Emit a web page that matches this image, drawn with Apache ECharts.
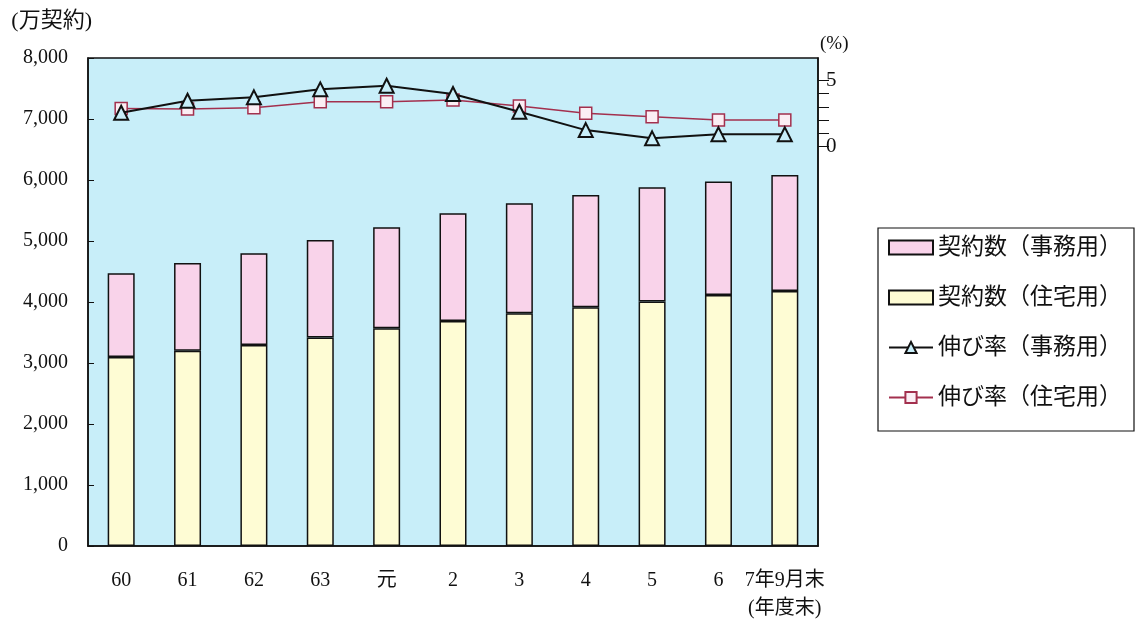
<!DOCTYPE html>
<html>
<head>
<meta charset="utf-8">
<script src="https://cdn.jsdelivr.net/npm/echarts@6/dist/echarts.min.js"></script>
<style>
html,body{margin:0;padding:0;background:#fff;}
#c{width:1140px;height:620px;}
</style>
</head>
<body>
<div id="c"></div>
<script>
const categories = ['60', '61', '62', '63', '元', '2', '3', '4', '5', '6', '7年9月末'];
const residentialContracts = [3100, 3200, 3295, 3420, 3570, 3690, 3815, 3915, 4010, 4115, 4180];
const officeContracts = [1370, 1440, 1505, 1595, 1655, 1765, 1805, 1840, 1870, 1860, 1900];
const officeGrowth = [2.55, 3.46, 3.71, 4.31, 4.58, 3.96, 2.63, 1.25, 0.63, 0.93, 0.93];
const residentialGrowth = [2.88, 2.83, 2.93, 3.38, 3.38, 3.51, 3.06, 2.51, 2.25, 2.0, 2.0];
const rightLabelValues = [0, 5];
const rightTickValues = [0, 1, 2, 3, 4, 5];

const FONT = "'Liberation Serif', 'Noto Sans CJK JP', serif";
const chart = echarts.init(document.getElementById('c'));
chart.setOption({
  animation: false,
  backgroundColor: '#ffffff',
  textStyle: { fontFamily: FONT, color: '#111' },
  grid: {
    left: 88, right: 322, top: 58, bottom: 74,
    show: true, backgroundColor: '#c8eef9', borderColor: '#111', borderWidth: 1.5
  },
  legend: {
    orient: 'vertical', left: 878, top: 228,
    data: [
      { name: '契約数（事務用）', icon: 'rect' },
      { name: '契約数（住宅用）', icon: 'rect' },
      { name: '伸び率（事務用）' },
      { name: '伸び率（住宅用）' }
    ],
    itemWidth: 44, itemHeight: 14, itemGap: 27,
    padding: [8, 12, 22, 10],
    borderColor: '#111', borderWidth: 1.2,
    textStyle: { fontFamily: FONT, fontSize: 23, color: '#111' }
  },
  xAxis: {
    type: 'category', data: categories, boundaryGap: true,
    axisLine: { lineStyle: { color: '#111', width: 1.5 } },
    axisTick: { inside: true, length: 6, lineStyle: { color: '#111' } },
    axisLabel: { fontFamily: FONT, fontSize: 20, color: '#111', margin: 25, interval: 0 }
  },
  yAxis: [
    {
      type: 'value', min: 0, max: 8000, interval: 1000,
      name: '(万契約)', nameLocation: 'end', nameGap: 26,
      nameTextStyle: { fontFamily: FONT, fontSize: 22, color: '#111', align: 'right', padding: [0, -4, 0, 0] },
      axisLine: { show: true, lineStyle: { color: '#111', width: 1.5 } },
      axisTick: { show: true, inside: true, length: 6, lineStyle: { color: '#111' } },
      splitLine: { show: false },
      axisLabel: {
        fontFamily: FONT, fontSize: 20, color: '#111', margin: 20,
        formatter: v => v.toLocaleString('en-US')
      }
    },
    {
      type: 'value', position: 'right', min: -30, max: 20 / 3, interval: 1,
      name: '(%)', nameLocation: 'end', nameGap: 4,
      nameTextStyle: { fontFamily: FONT, fontSize: 19, color: '#111', align: 'left', padding: [0, 0, 0, 2] },
      axisLine: { show: true, lineStyle: { color: '#111', width: 1.5 } },
      axisTick: { show: true, inside: false, length: 11, customValues: rightTickValues, lineStyle: { color: '#111' } },
      splitLine: { show: false },
      axisLabel: { show: true, customValues: rightLabelValues, fontFamily: FONT, fontSize: 21, color: '#111', margin: 8 }
    }
  ],
  series: [
    {
      name: '契約数（住宅用）', type: 'bar', stack: 'c', data: residentialContracts,
      barWidth: 27, yAxisIndex: 0,
      itemStyle: { color: '#fefcd4', borderColor: '#111', borderWidth: 1.5 }
    },
    {
      name: '契約数（事務用）', type: 'bar', stack: 'c', data: officeContracts,
      barWidth: 27, yAxisIndex: 0,
      itemStyle: { color: '#f9d3ea', borderColor: '#111', borderWidth: 1.5 }
    },
    {
      name: '伸び率（住宅用）', type: 'line', yAxisIndex: 1, data: residentialGrowth,
      symbol: 'rect', symbolSize: 12, z: 5,
      lineStyle: { color: '#a3304e', width: 1.5 },
      itemStyle: { color: '#fbeef4', borderColor: '#a3304e', borderWidth: 1.5 }
    },
    {
      name: '伸び率（事務用）', type: 'line', yAxisIndex: 1, data: officeGrowth,
      symbol: 'triangle', symbolSize: 14, z: 6,
      lineStyle: { color: '#111', width: 2 },
      itemStyle: { color: '#c8eef9', borderColor: '#111', borderWidth: 2 }
    }
  ],
  graphic: [
    {
      type: 'text', left: 748, top: 599,
      style: { text: '(年度末)', font: "20px 'Liberation Serif', 'Noto Sans CJK JP', serif", fill: '#111' }
    }
  ]
});
</script>
</body>
</html>
